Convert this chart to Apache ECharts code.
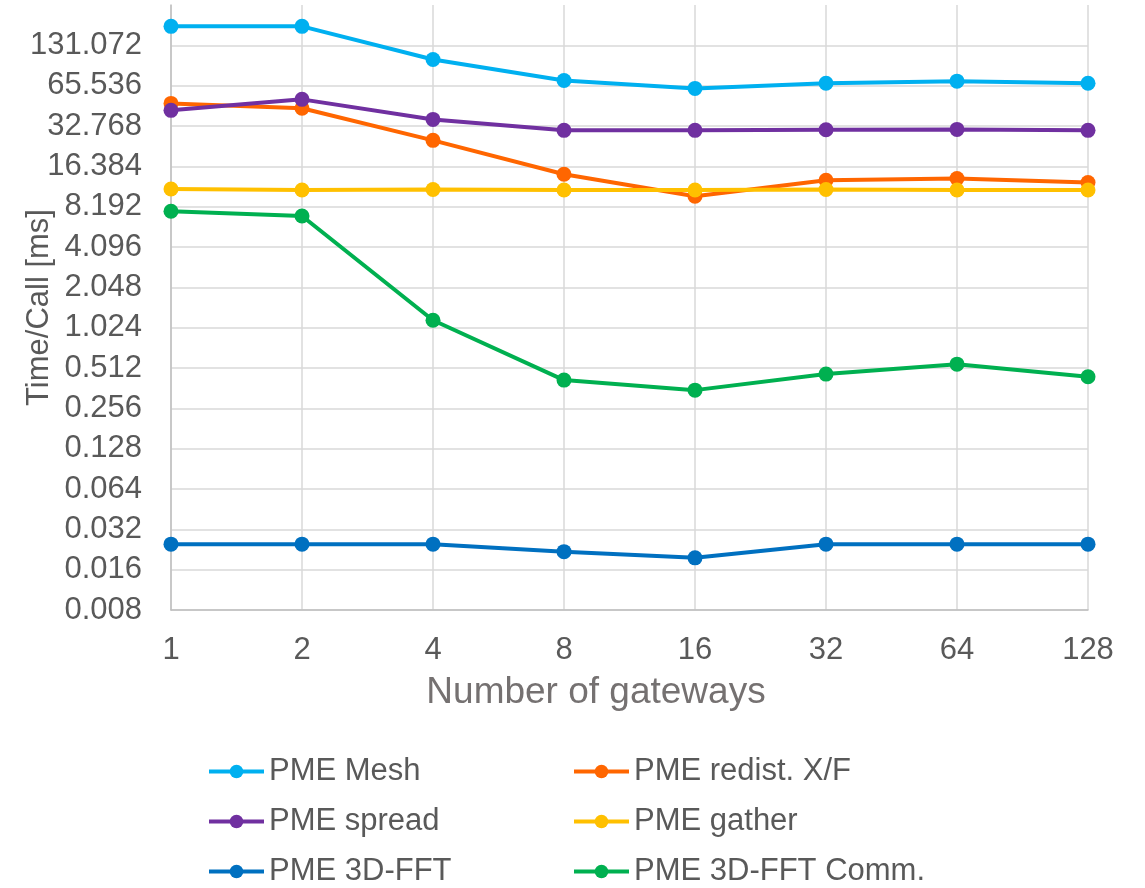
<!DOCTYPE html>
<html>
<head>
<meta charset="utf-8">
<script src="https://cdn.jsdelivr.net/npm/echarts@6/dist/echarts.min.js"></script>
<style>
html,body{margin:0;padding:0;background:#fff;}
#chart{width:1145px;height:888px;}
</style>
</head>
<body>
<div id="chart"></div>
<script>
// Categories (number of gateways)
const categories = ['1', '2', '4', '8', '16', '32', '64', '128'];

// Series values in ms
const pmeMesh     = [181.6, 181.6, 102.8, 71.7, 62.5, 68.3, 70.8, 68.3];
const pmeRedist   = [48.3, 44.5, 25.6, 14.3, 9.8, 12.9, 13.3, 12.4];
const pmeSpread   = [42.9, 51.8, 36.7, 30.4, 30.4, 30.7, 30.9, 30.4];
const pmeGather   = [11.1, 10.9, 11.0, 10.9, 10.9, 11.0, 10.9, 10.9];
const pme3dfft    = [0.0248, 0.0248, 0.0248, 0.0218, 0.0196, 0.0248, 0.0248, 0.0248];
const pme3dfftComm= [7.57, 6.98, 1.164, 0.416, 0.350, 0.461, 0.547, 0.44];

// Y-axis tick labels (ms): 0.008 * 2^k
const yTickLabels = ['0.008','0.016','0.032','0.064','0.128','0.256','0.512','1.024','2.048','4.096','8.192','16.384','32.768','65.536','131.072'];

// Plot in microseconds so that ticks fall on exact powers of 2 (8 µs = 0.008 ms)
const MS_TO_US = 1000;
const toUs = arr => arr.map(v => v * MS_TO_US);

const FONT = "'Liberation Sans', Arial, sans-serif";
const names = ['PME Mesh', 'PME redist. X/F', 'PME spread', 'PME gather', 'PME 3D-FFT', 'PME 3D-FFT Comm.'];
const colors = ['#00B0F0', '#FF6600', '#7030A0', '#FFC000', '#0070C0', '#00B050'];
const values = [pmeMesh, pmeRedist, pmeSpread, pmeGather, pme3dfft, pme3dfftComm];

const legendText = { fontSize: 31, color: '#595959', fontFamily: FONT, lineHeight: 30 };
const legendCommon = {
  orient: 'vertical', top: 756, height: 140, padding: 0,
  itemWidth: 55, itemHeight: 17, itemGap: 19,
  lineStyle: { width: 4 },
  textStyle: legendText
};

const chart = echarts.init(document.getElementById('chart'));
chart.setOption({
  animation: false,
  backgroundColor: '#ffffff',
  textStyle: { fontFamily: FONT },
  grid: { left: 171, right: 57, top: 5, bottom: 278, containLabel: false, outerBoundsMode: 'none' },
  legend: [
    Object.assign({}, legendCommon, { left: 207, data: ['PME Mesh', 'PME spread', 'PME 3D-FFT'] }),
    Object.assign({}, legendCommon, { left: 572, data: ['PME redist. X/F', 'PME gather', 'PME 3D-FFT Comm.'] })
  ],
  xAxis: {
    type: 'category',
    data: categories,
    boundaryGap: false,
    name: 'Number of gateways',
    nameLocation: 'middle',
    nameGap: 64,
    nameMoveOverlap: false,
    nameTextStyle: { fontSize: 37, color: '#757171', fontFamily: FONT, padding: [0, 67, 0, 0] },
    axisLine: { show: true, lineStyle: { color: '#BFBFBF', width: 1.5 } },
    axisTick: { show: false },
    axisLabel: { fontSize: 31, color: '#595959', margin: 25, fontFamily: FONT },
    splitLine: { show: true, lineStyle: { color: '#D9D9D9', width: 1.5 } }
  },
  yAxis: {
    type: 'log',
    logBase: 2,
    min: 8,
    max: 262144,
    interval: 1,
    name: 'Time/Call [ms]',
    nameLocation: 'middle',
    nameGap: 116,
    nameMoveOverlap: false,
    nameRotate: 90,
    nameTextStyle: { fontSize: 31, color: '#595959', fontFamily: FONT },
    axisLine: { show: true, lineStyle: { color: '#BFBFBF', width: 1.5 } },
    axisTick: { show: false },
    axisLabel: {
      fontSize: 31, color: '#595959', margin: 29, fontFamily: FONT,
      showMaxLabel: false,
      formatter: function (v) {
        const k = Math.round(Math.log2(v / 8));
        return yTickLabels[k] !== undefined ? yTickLabels[k] : '';
      }
    },
    splitLine: { show: true, showMaxLine: false, lineStyle: { color: '#D9D9D9', width: 1.5 } }
  },
  series: names.map((n, i) => ({
    name: n,
    type: 'line',
    data: toUs(values[i]),
    symbol: 'circle',
    symbolSize: 15,
    color: colors[i],
    lineStyle: { width: 4, color: colors[i] },
    itemStyle: { color: colors[i] },
    z: 2 + i
  }))
});
</script>
</body>
</html>
